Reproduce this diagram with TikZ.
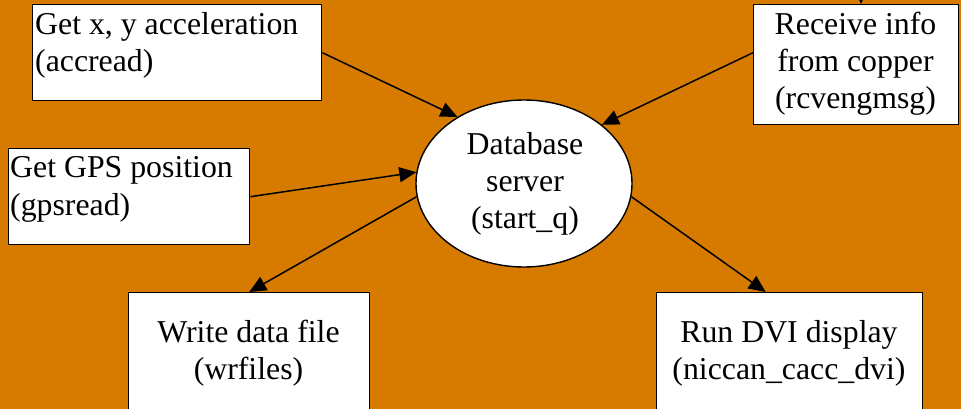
\documentclass[tikz,border=0pt]{standalone}
\usepackage{fontspec}
\setmainfont{Liberation Serif}
\usetikzlibrary{shapes.geometric,arrows.meta}
\definecolor{bg}{RGB}{214,122,0}
\tikzset{
  box/.style={draw=black, fill=white, line width=1.4pt, rectangle, inner sep=0pt},
  lbl/.style={inner sep=0pt, font=\fontsize{31.8}{37}\selectfont},
  conn/.style={draw=black, line width=1.5pt, -{Triangle[length=17pt,width=15pt]}},
}
\begin{document}
\begin{tikzpicture}[x=1pt,y=-1pt]
\useasboundingbox (0,0) rectangle (961,409);
\clip (0,0) rectangle (961,409);
\fill[bg] (0,0) rectangle (961,409);
% boxes
\node[box, anchor=north west, minimum width=289pt, minimum height=96pt] (acc) at (32,4) {};
\node[box, anchor=north west, minimum width=205pt, minimum height=120pt] (rcv) at (753,4) {};
\node[box, anchor=north west, minimum width=241pt, minimum height=96pt] (gps) at (8,148) {};
\node[box, anchor=north west, minimum width=241pt, minimum height=140pt] (wr) at (128,292) {};
\node[box, anchor=north west, minimum width=266pt, minimum height=140pt] (run) at (656,292) {};
\node[box, ellipse, minimum width=216pt, minimum height=167pt] (db) at (524,183.5) {};
% texts
\node[lbl, anchor=base west] (acct) at (35,35) {\begin{tabular}[t]{@{}l@{}}Get x, y acceleration\\(accread)\end{tabular}};
\node[lbl, anchor=base] (rcvt) at (855.5,35) {\begin{tabular}[t]{@{}c@{}}Receive info\\from copper\\(rcvengmsg)\end{tabular}};
\node[lbl, anchor=base west] (gpst) at (10,178) {\begin{tabular}[t]{@{}l@{}}Get GPS position\\(gpsread)\end{tabular}};
\node[lbl, anchor=base] (dbt) at (525,154) {\begin{tabular}[t]{@{}c@{}}Database\\server\\(start\_q)\end{tabular}};
\node[lbl, anchor=base] (wrt) at (248.5,342) {\begin{tabular}[t]{@{}c@{}}Write data file\\(wrfiles)\end{tabular}};
\node[lbl, anchor=base] (runt) at (789,342) {\begin{tabular}[t]{@{}c@{}}Run DVI display\\(niccan\_cacc\_dvi)\end{tabular}};
% connectors
\coordinate (topin) at (861,-30);
\draw[conn] (topin) -- (rcv.north -| topin);
\draw[conn] (acc.east) -- (db.135);
\draw[conn] ([yshift=12pt]rcv.west) -- (db.37);
\draw[conn] (gps.east) -- (db.174);
\draw[conn] (db.187) -- (wr.north);
\draw[conn] (db.-7) -- ([xshift=-24pt]run.north);
\end{tikzpicture}
\end{document}
